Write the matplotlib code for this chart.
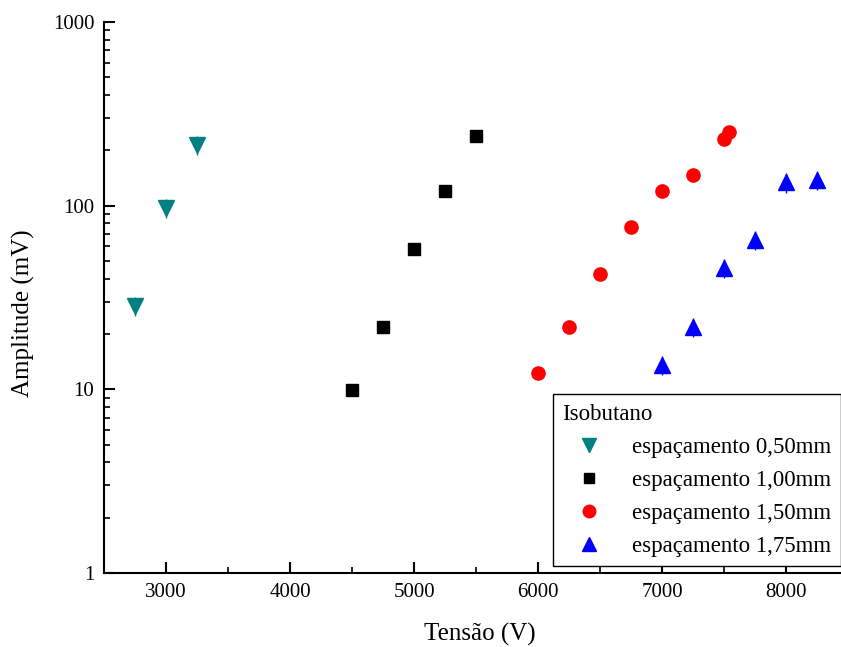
import matplotlib
matplotlib.use("Agg")
import matplotlib.pyplot as plt
from matplotlib.ticker import LogLocator, NullFormatter, FixedLocator, MultipleLocator

plt.rcParams["font.family"] = ["Liberation Serif", "DejaVu Serif"]

# espaçamento 0,50mm
x050 = [2750, 3000, 3250]
y050 = [28.5, 97, 214]
# espaçamento 1,00mm
x100 = [4500, 4750, 5000, 5250, 5500]
y100 = [9.9, 21.8, 58, 120, 239]
# espaçamento 1,50mm
x150 = [6000, 6250, 6500, 6750, 7000, 7250, 7500, 7540]
y150 = [12.3, 21.9, 42.4, 76.5, 120, 147, 230, 252]
# espaçamento 1,75mm
x175 = [7000, 7250, 7500, 7750, 8000, 8250]
y175 = [13.6, 21.8, 45.7, 65, 134, 138]

fig = plt.figure(figsize=(8.41, 6.47), dpi=100)
ax = fig.add_axes([0.1237, 0.1144, 0.8763, 0.8516])

series = [
    (x050, y050, "v", "#008080", 11, "espaçamento 0,50mm"),
    (x100, y100, "s", "black", 8, "espaçamento 1,00mm"),
    (x150, y150, "o", "#ff0000", 9.5, "espaçamento 1,50mm"),
    (x175, y175, "^", "#0000ff", 11, "espaçamento 1,75mm"),
]
for xs, ys, m, c, ms, lab in series:
    if m in ("v", "^"):
        # tiny error bars poking out of the triangles
        ax.errorbar(xs, ys, yerr=[v * 0.12 for v in ys], fmt="none",
                    ecolor=c, elinewidth=1, capsize=0)
    ax.plot(xs, ys, m, color=c, ms=ms, mec=c, label=lab, linestyle="none")

ax.set_yscale("log")
ax.set_ylim(1, 1000)
ax.set_xlim(2500, 8440)
ax.yaxis.set_major_locator(FixedLocator([1, 10, 100, 1000]))
ax.yaxis.set_major_formatter(plt.FuncFormatter(lambda v, p: f"{v:g}"))
ax.yaxis.set_minor_locator(LogLocator(base=10, subs=range(2, 10)))
ax.yaxis.set_minor_formatter(NullFormatter())
ax.xaxis.set_major_locator(MultipleLocator(1000))
ax.xaxis.set_minor_locator(MultipleLocator(500))

for s in ("top", "right"):
    ax.spines[s].set_visible(False)
for s in ("left", "bottom"):
    ax.spines[s].set_linewidth(1.5)
ax.tick_params(which="major", direction="in", length=8, width=1.5, labelsize=15, pad=7)
ax.tick_params(which="minor", direction="in", length=4, width=1.2)

ax.set_xlabel("Tensão (V)", fontsize=18, labelpad=15)
ax.xaxis.label.set_x(0.51)
ax.set_ylabel("Amplitude (mV)", fontsize=18)
ax.yaxis.set_label_coords(-0.094, 0.472)

leg = ax.legend(title="Isobutano", loc="lower right", bbox_to_anchor=(1.0, 0.012),
                fontsize=16.5, title_fontsize=16.5, markerscale=0.95,
                frameon=True, fancybox=False, edgecolor="black", framealpha=1,
                borderaxespad=0.0, handletextpad=0.75, handlelength=2.3,
                labelspacing=0.52, borderpad=0.42)
leg._legend_box.align = "left"
leg.get_frame().set_linewidth(1)

fig.savefig("out.png", dpi=100)
